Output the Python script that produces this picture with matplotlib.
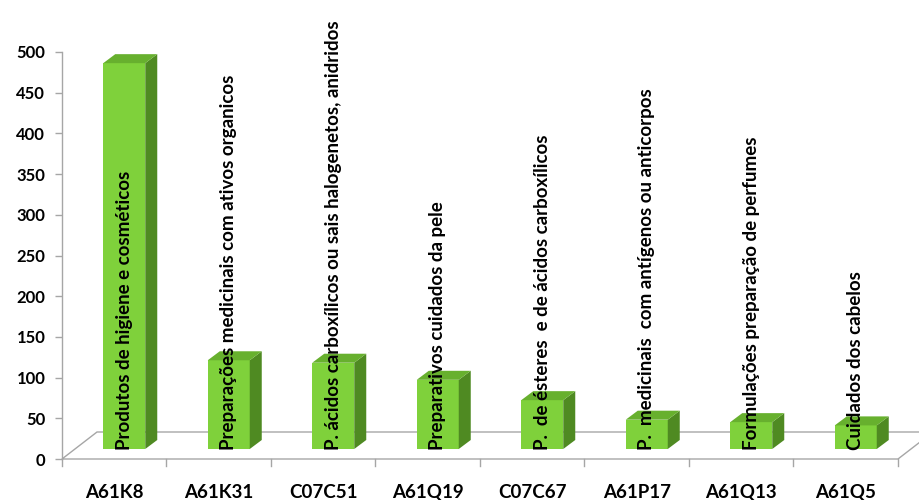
import matplotlib
matplotlib.use("Agg")
import matplotlib.pyplot as plt
from matplotlib.patches import Polygon
import numpy as np

categories = ["A61K8", "A61K31", "C07C51", "A61Q19", "C07C67", "A61P17", "A61Q13", "A61Q5"]
values = [474, 109, 106, 85, 60, 36, 33, 29]
bar_labels = [
    "Produtos de higiene e cosméticos",
    "Preparações medicinais com ativos organicos",
    "P. ácidos carboxílicos ou sais halogenetos, anidridos",
    "Preparativos cuidados da pele",
    "P.  de ésteres  e de ácidos carboxílicos",
    "P.  medicinais  com antígenos ou anticorpos",
    "Formulações preparação de perfumes",
    "Cuidados dos cabelos",
]
yticks = [0, 50, 100, 150, 200, 250, 300, 350, 400, 450, 500]

FRONT = "#7fd13b"
SIDE = "#4f8a22"
TOP = "#67b02e"
GRID = "#a6a6a6"
FONT = ["Lato", "DejaVu Sans"]

W, H = 920, 500
fig = plt.figure(figsize=(W / 100, H / 100), dpi=100)
ax_l, ax_r, ax_t, ax_b = 62, 898, 52, 459
ax = fig.add_axes([ax_l / W, 1 - ax_b / H, (ax_r - ax_l) / W, (ax_b - ax_t) / H])
n = len(categories)
ax.set_xlim(-0.5, n - 0.5)
ax.set_ylim(0, 500)

# pixel -> data unit conversions
pxx = (n) / (ax_r - ax_l)
pxy = 500 / (ax_b - ax_t)

# floor
fdx, fdy = 35 * pxx, 27 * pxy
floor = Polygon([(-0.5, 0), (n - 0.5, 0), (n - 0.5 + fdx, fdy), (-0.5 + fdx, fdy)],
                closed=True, facecolor="white", edgecolor=GRID, lw=1.0, clip_on=False, zorder=1)
ax.add_patch(floor)
# category boundary ticks on front edge
for b in np.arange(-0.5, n + 0.5, 1.0):
    ax.plot([b, b], [0, -7 * pxy], color=GRID, lw=1.0, clip_on=False, zorder=1)

# bars
offx, offy = 10 * pxx, 10 * pxy
bw = 42 * pxx
ddx, ddy = 12 * pxx, 9 * pxy
x = np.arange(n)
ax.bar(x + offx, values, width=bw, bottom=offy, color=FRONT, zorder=3, linewidth=0)
for xi, v in zip(x, values):
    xl = xi + offx - bw / 2
    xr = xi + offx + bw / 2
    side = Polygon([(xr, offy), (xr, offy + v), (xr + ddx, offy + v + ddy), (xr + ddx, offy + ddy)],
                   closed=True, facecolor=SIDE, edgecolor="none", zorder=3, clip_on=False)
    top = Polygon([(xl, offy + v), (xr, offy + v), (xr + ddx, offy + v + ddy), (xl + ddx, offy + v + ddy)],
                  closed=True, facecolor=TOP, edgecolor="none", zorder=3, clip_on=False)
    ax.add_patch(side)
    ax.add_patch(top)

for xi, lab in zip(x, bar_labels):
    ax.text(xi + offx, offy - 1 * pxy, lab, rotation=90, ha="center", va="bottom",
            fontsize=13.5, fontweight="bold", family=FONT, color="black", zorder=5, clip_on=False)

# axes styling
for s in ["top", "right", "bottom"]:
    ax.spines[s].set_visible(False)
ax.spines["left"].set_color(GRID)
ax.spines["left"].set_linewidth(1.0)
ax.set_yticks(yticks)
ax.set_yticklabels([str(t) for t in yticks], fontsize=12, fontweight="bold", family=FONT)
ax.tick_params(axis="y", length=5, color=GRID, width=1.0, pad=7)
ax.set_xticks(x)
ax.set_xticklabels(categories, fontsize=13.5, fontweight="bold", family=FONT)
ax.tick_params(axis="x", length=0, pad=18)

fig.savefig("out.png", dpi=100)
